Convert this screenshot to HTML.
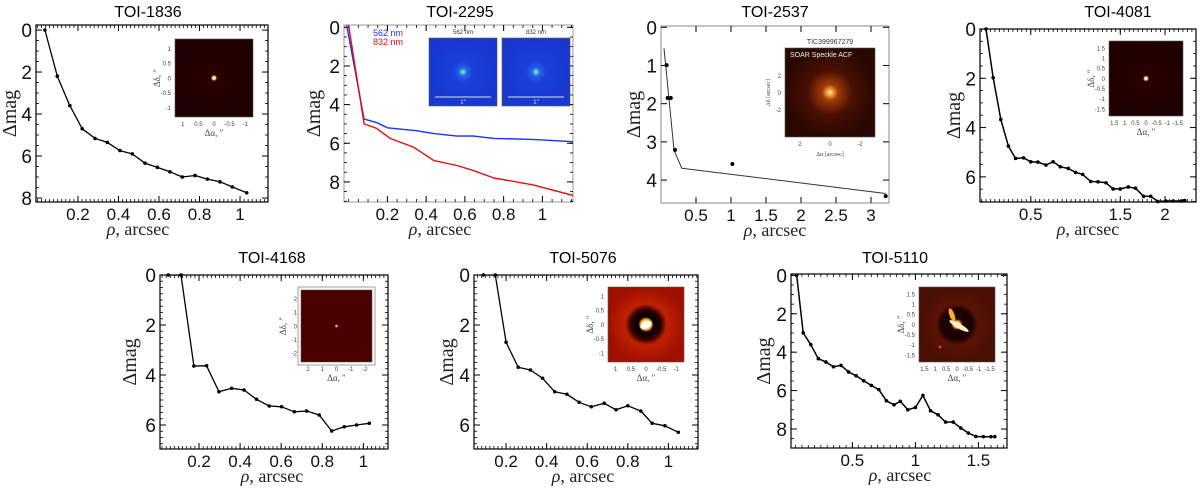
<!DOCTYPE html>
<html><head><meta charset="utf-8"><style>
html,body{margin:0;padding:0;background:#fff;}
svg{display:block;}
text{font-family:"Liberation Sans",sans-serif;}
.serif{font-family:"Liberation Serif",serif;}
</style></head><body>
<svg id="fig" width="1200" height="491" viewBox="0 0 1200 491" xmlns="http://www.w3.org/2000/svg">
<defs>
<radialGradient id="gDark" cx="50%" cy="50%" r="50%"><stop offset="0" stop-color="#fff"/><stop offset="0.03" stop-color="#fff"/><stop offset="0.05" stop-color="#ff9a20"/><stop offset="0.08" stop-color="#2a0000"/><stop offset="1" stop-color="#1e0000"/></radialGradient>
<radialGradient id="gBrown" cx="50%" cy="50%" r="50%"><stop offset="0" stop-color="#fff"/><stop offset="0.05" stop-color="#ffb040"/><stop offset="0.18" stop-color="#a03a08"/><stop offset="0.5" stop-color="#4a1002"/><stop offset="1" stop-color="#2a0802"/></radialGradient>
<radialGradient id="gMaroon" cx="50%" cy="50%" r="50%"><stop offset="0" stop-color="#ffff80"/><stop offset="0.03" stop-color="#ff8000"/><stop offset="0.05" stop-color="#4a0000"/><stop offset="1" stop-color="#4a0000"/></radialGradient>
<radialGradient id="gRed" cx="50%" cy="50%" r="50%"><stop offset="0" stop-color="#fff"/><stop offset="0.1" stop-color="#ffe0a0"/><stop offset="0.15" stop-color="#ff9000"/><stop offset="0.2" stop-color="#000"/><stop offset="0.4" stop-color="#300000"/><stop offset="0.55" stop-color="#c02000"/><stop offset="1" stop-color="#a01000"/></radialGradient>
<radialGradient id="gBrown2" cx="50%" cy="50%" r="50%"><stop offset="0" stop-color="#fff"/><stop offset="0.08" stop-color="#ffc060"/><stop offset="0.15" stop-color="#200000"/><stop offset="0.4" stop-color="#1a0000"/><stop offset="0.55" stop-color="#5a1205"/><stop offset="1" stop-color="#4a1005"/></radialGradient>
<radialGradient id="gBlue" cx="50%" cy="50%" r="50%"><stop offset="0" stop-color="#ffe000"/><stop offset="0.04" stop-color="#40e0c0"/><stop offset="0.12" stop-color="#2a60f0"/><stop offset="0.3" stop-color="#1a40d8"/><stop offset="1" stop-color="#1838d0"/></radialGradient>
</defs>
</svg>
<script>
// ---------- data ----------
const p1Rho=[0.037,0.098,0.16,0.221,0.284,0.345,0.407,0.468,0.531,0.592,0.654,0.715,0.778,0.839,0.901,0.962,1.033];
const p1Dmag=[0,2.2,3.6,4.7,5.16,5.35,5.74,5.9,6.34,6.54,6.75,7.0,6.93,7.1,7.23,7.47,7.75];
const p2BlueRho=[-0.01,0.08,0.145,0.2,0.35,0.44,0.56,0.64,0.75,0.95,1.158];
const p2BlueDmag=[-0.1,4.75,4.93,5.2,5.35,5.5,5.63,5.62,5.75,5.8,5.92];
const p2RedRho=[0.0,0.08,0.145,0.214,0.334,0.44,0.56,0.64,0.75,0.95,1.158];
const p2RedDmag=[-0.1,5.0,5.23,5.75,6.2,6.9,7.15,7.4,7.8,8.15,8.7];
const p3LineRho=[0.043,0.186,0.295,3.21];
const p3LineDmag=[0.55,3.21,3.69,4.35];
const p3PtRho=[0.08,0.095,0.14,0.2,1.02,3.21];
const p3PtDmag=[0.99,1.85,1.85,3.21,3.58,4.42];
const p4Rho=[0,0.08,0.165,0.25,0.33,0.42,0.50,0.58,0.67,0.75,0.83,0.92,1.0,1.08,1.17,1.25,1.34,1.42,1.50,1.59,1.67,1.76,1.84,1.92,2.01,2.09,2.18,2.22];
const p4Dmag=[0,1.98,3.67,4.75,5.25,5.23,5.39,5.4,5.52,5.39,5.59,5.66,5.82,5.9,6.19,6.2,6.24,6.49,6.49,6.41,6.46,6.79,6.79,7.0,6.98,6.98,6.98,6.96];
const p5Rho=[0.05,0.112,0.175,0.237,0.297,0.359,0.419,0.48,0.542,0.602,0.664,0.724,0.785,0.846,0.907,0.967,1.029];
const p5Dmag=[0,0,3.64,3.63,4.67,4.53,4.6,4.97,5.24,5.27,5.47,5.44,5.6,6.24,6.07,6.0,5.93];
const p6Rho=[0.088,0.147,0.2,0.26,0.32,0.38,0.44,0.5,0.56,0.62,0.684,0.742,0.80,0.864,0.92,0.983,1.049];
const p6Dmag=[0,0,2.69,3.69,3.8,4.13,4.67,4.77,5.09,5.27,5.13,5.39,5.23,5.44,5.93,6.03,6.29];
const p7Rho=[0.058,0.11,0.17,0.23,0.29,0.35,0.41,0.47,0.53,0.59,0.65,0.71,0.77,0.83,0.88,0.94,1.00,1.06,1.12,1.18,1.24,1.30,1.36,1.42,1.48,1.54,1.60,1.63];
const p7Dmag=[0,3.0,3.61,4.34,4.51,4.76,4.69,5.03,5.23,5.49,5.73,5.95,6.53,6.74,6.56,7.0,6.88,6.25,7.05,7.26,7.64,7.64,7.95,8.21,8.39,8.4,8.4,8.4];
const p1XTicks=[0.2,0.4,0.6,0.8,1], p1YTicks=[0,2,4,6,8];
const p2XTicks=[0.2,0.4,0.6,0.8,1], p2YTicks=[0,2,4,6,8];
const p3XTicks=[0.5,1,1.5,2,2.5,3], p3YTicks=[0,1,2,3,4];
const p4XTicks=[0.5,1.5,2], p4YTicks=[0,2,4,6];
const p5XTicks=[0.2,0.4,0.6,0.8,1], p5YTicks=[0,2,4,6];
const p6XTicks=[0.2,0.4,0.6,0.8,1], p6YTicks=[0,2,4,6];
const p7XTicks=[0.5,1,1.5], p7YTicks=[0,2,4,6,8];

const NS='http://www.w3.org/2000/svg';
const svg=document.getElementById('fig');
function mk(tag,attrs,parent){const e=document.createElementNS(NS,tag);for(const k in attrs)e.setAttribute(k,attrs[k]);(parent||svg).appendChild(e);return e;}
function fmt(v){return String(v);}

function panel(cfg){
  const g=mk('g',{});
  
  
  const {l,r,t,b}=cfg.box;
  const sx=v=>l+(v-cfg.xd[0])/(cfg.xd[1]-cfg.xd[0])*(r-l);
  const sy=v=>t+(v-cfg.yd[0])/(cfg.yd[1]-cfg.yd[0])*(b-t);
  cfg.sx=sx;cfg.sy=sy;cfg.g=g;
  const title=mk('text',{x:cfg.titleX,y:cfg.titleY,'text-anchor':'middle','font-size':16,fill:'#000'},g);
  title.textContent=cfg.title;
  
  
  const frame=mk('rect',{x:l,y:t,width:r-l,height:b-t,fill:'none',stroke:cfg.frameColor||'#000','stroke-width':cfg.frameW||1.2},g);
  
  
  if(cfg.minorX){
    for(let v=Math.ceil(cfg.xd[0]/cfg.minorX)*cfg.minorX; v<=cfg.xd[1]; v+=cfg.minorX){
      const x=sx(v);
      mk('line',{x1:x,x2:x,y1:t,y2:t+3,stroke:'#000','stroke-width':0.8},g);
      mk('line',{x1:x,x2:x,y1:b,y2:b-3,stroke:'#000','stroke-width':0.8},g);
    }
  }
  if(cfg.minorY){
    for(let v=Math.ceil(cfg.yd[0]/cfg.minorY)*cfg.minorY; v<=cfg.yd[1]; v+=cfg.minorY){
      const y=sy(v);
      mk('line',{x1:l,x2:l+3,y1:y,y2:y,stroke:'#000','stroke-width':0.8},g);
      mk('line',{x1:r,x2:r-3,y1:y,y2:y,stroke:'#000','stroke-width':0.8},g);
    }
  }
  cfg.xTicks.forEach(v=>{
    const x=sx(v);
    mk('line',{x1:x,x2:x,y1:b,y2:b-6,stroke:'#000','stroke-width':1},g);
    mk('line',{x1:x,x2:x,y1:t,y2:t+6,stroke:'#000','stroke-width':1},g);
    const tx=mk('text',{x:x,y:b+18,'text-anchor':'middle','font-size':17,fill:'#111'},g);
    tx.textContent=fmt(v);
    
    
  });
  cfg.yTicks.forEach(v=>{
    const y=sy(v);
    mk('line',{x1:l,x2:l+6,y1:y,y2:y,stroke:'#000','stroke-width':1},g);
    mk('line',{x1:r,x2:r-6,y1:y,y2:y,stroke:'#000','stroke-width':1},g);
    const ty=mk('text',{x:l-4,y:y+7,'text-anchor':'end','font-size':19,fill:'#111'},g);
    ty.textContent=fmt(v);
    
    
  });
  const yl=mk('text',{x:0,y:0,'text-anchor':'middle','font-size':20,'class':'serif',fill:'#222',transform:`translate(${cfg.ylX},${(t+b)/2}) rotate(-90)`},g);
  yl.textContent='Δmag';
  
  
  const xl=mk('text',{x:cfg.xlX,y:b+33,'text-anchor':'middle','font-size':18,'class':'serif',fill:'#222'},g);
  xl.innerHTML='<tspan font-style="italic">ρ</tspan>, arcsec';
  
  
  const cp=mk('clipPath',{id:'clip-'+cfg.name},g);
  mk('rect',{x:l,y:t,width:r-l,height:b-t},cp);
  return cfg;
}
function series(cfg,xs,ys,color,name,dots,w){
  const pts=xs.map((v,i)=>cfg.sx(v).toFixed(1)+','+cfg.sy(ys[i]).toFixed(1)).join(' ');
  const pl=mk('polyline',{points:pts,fill:'none',stroke:color,'stroke-width':w||1.3,'stroke-linejoin':'round','clip-path':`url(#clip-${cfg.name})`},cfg.g);
  
  
  if(dots) xs.forEach((v,i)=>{
    const c=mk('circle',{cx:cfg.sx(v),cy:cfg.sy(ys[i]),r:1.8,fill:color},cfg.g);
    
    
  });
}
function points(cfg,xs,ys,name){
  xs.forEach((v,i)=>{
    const c=mk('circle',{cx:cfg.sx(v),cy:cfg.sy(ys[i]),r:2,fill:'#000'},cfg.g);
    
    
  });
}
function inset(o){
  const g=mk('g',{});
  
  
  if(o.border) mk('rect',{x:o.x-3,y:o.y-3,width:o.w+6,height:o.h+6,fill:'#fff',stroke:'#888','stroke-width':0.8},g);
  const im=mk('rect',{x:o.x,y:o.y,width:o.w,height:o.h,fill:o.fill,stroke:'#555','stroke-width':0.6},g);
  
  
  if(o.extra) o.extra(g);
  if(o.yt) o.yt.forEach((s,i)=>{const tt=mk('text',{x:o.x-4,y:o.y+o.h*(i+0.5)/o.yt.length*0.95+o.h*0.03+2,'text-anchor':'end','font-size':6,fill:'#444'},g);tt.textContent=s;});
  if(o.xt) o.xt.forEach((s,i)=>{const tt=mk('text',{x:o.x+o.w*(i+0.5)/o.xt.length,y:o.y+o.h+9,'text-anchor':'middle','font-size':6,fill:'#444'},g);tt.textContent=s;});
  if(o.xlab){const tt=mk('text',{x:o.x+o.w/2,y:o.y+o.h+19,'text-anchor':'middle','font-size':o.lfs||9,'class':'serif',fill:'#444'},g);tt.textContent=o.xlab;}
  if(o.ylab){const tt=mk('text',{x:0,y:0,'text-anchor':'middle','font-size':o.lfs||9,'class':'serif',fill:'#444',transform:`translate(${o.x-15},${o.y+o.h/2}) rotate(-90)`},g);tt.textContent=o.ylab;}
}

// ---------- panels ----------
const P1=panel({name:'toi-1836',title:'TOI-1836',box:{l:36,r:268,t:25,b:202},xd:[-0.007,1.138],yd:[-0.24,8.19],xTicks:p1XTicks,yTicks:p1YTicks,minorX:0.02,minorY:0.5,titleX:148,titleY:17,ylX:16,xlX:138});
series(P1,p1Rho,p1Dmag,'#000','contrast-curve',true);
inset({name:'toi-1836-inset',x:175,y:39,w:78,h:78,fill:'url(#gDark)',yt:['1','0.5','0','-0.5','-1'],xt:['1','0.5','0','-0.5','-1'],xlab:'Δα, ″',ylab:'Δδ, ″'});

const P2=panel({name:'toi-2295',title:'TOI-2295',box:{l:344,r:573,t:25,b:202},xd:[-0.024,1.158],yd:[-0.12,9.04],xTicks:p2XTicks,yTicks:p2YTicks,minorX:0.05,minorY:0.5,frameColor:'#999',frameW:1,titleX:460,titleY:17,ylX:320,xlX:440});
series(P2,p2BlueRho,p2BlueDmag,'#2030ff','blue-562nm-curve',false,1.4);
series(P2,p2RedRho,p2RedDmag,'#e01010','red-832nm-curve',false,1.4);
(function(){const t1=mk('text',{x:373,y:36,'font-size':9,fill:'#2030ff'});t1.textContent='562 nm';
const t2=mk('text',{x:373,y:45,'font-size':9,fill:'#e01010'});t2.textContent='832 nm';})();
[[429,'562 nm'],[502,'832 nm']].forEach(([x,lab])=>{
  inset({name:'toi-2295-inset-'+lab.replace(' ',''),x:x,y:38,w:68,h:68,fill:'url(#gBlue)',extra:g=>{
    mk('line',{x1:x+6,x2:x+62,y1:97,y2:97,stroke:'#ddd','stroke-width':1},g);
    const s=mk('text',{x:x+34,y:104,'text-anchor':'middle','font-size':6,fill:'#ddd'},g);s.textContent='1″';
    const tt=mk('text',{x:x+34,y:34,'text-anchor':'middle','font-size':6,fill:'#333'},g);tt.textContent=lab;}});
});

const P3=panel({name:'toi-2537',title:'TOI-2537',box:{l:661,r:889,t:26,b:203},xd:[0,3.257],yd:[-0.034,4.6],xTicks:p3XTicks,yTicks:p3YTicks,frameColor:'#888',frameW:1,titleX:775,titleY:17,ylX:640,xlX:775});
series(P3,p3LineRho,p3LineDmag,'#333','sensitivity-curve',false,1);
points(P3,p3PtRho,p3PtDmag,'detection-limit-point');
inset({name:'toi-2537-inset',x:785,y:48,w:90,h:89,fill:'url(#gBrown)',yt:['','2','0','-2',''],xt:['2','0','-2'],xlab:'Δα [arcsec]',ylab:'Δδ [arcsec]',lfs:6,extra:g=>{
  const a=mk('text',{x:830,y:44,'text-anchor':'middle','font-size':7,fill:'#333'},g);a.textContent='TIC399967279';
  const b=mk('text',{x:790,y:57,'font-size':7,fill:'#eee'},g);b.textContent='SOAR Speckle ACF';}});

const P4=panel({name:'toi-4081',title:'TOI-4081',box:{l:980,r:1196,t:29,b:202},xd:[-0.067,2.346],yd:[0,7.02],xTicks:p4XTicks,yTicks:p4YTicks,minorX:0.05,minorY:0.5,titleX:1118,titleY:17,ylX:960,xlX:1088});
series(P4,p4Rho,p4Dmag,'#000','contrast-curve',true,1.5);
inset({name:'toi-4081-inset',x:1109,y:41,w:74,h:75,fill:'url(#gDark)',yt:['1.5','1','0.5','0','-0.5','-1','-1.5'],xt:['1.5','1','0.5','0','-0.5','-1','-1.5'],xlab:'Δα, ″',ylab:'Δδ, ″'});

const P5=panel({name:'toi-4168',title:'TOI-4168',box:{l:160,r:388,t:275,b:449},xd:[0.01,1.12],yd:[0,6.96],xTicks:p5XTicks,yTicks:p5YTicks,minorX:0.02,minorY:0.25,titleX:272,titleY:263,ylX:136,xlX:272});
series(P5,p5Rho,p5Dmag,'#000','contrast-curve',true);
inset({name:'toi-4168-inset',x:301,y:290,w:71,h:72,fill:'url(#gMaroon)',border:true,yt:['2','1','0','-1','-2'],xt:['2','1','0','-1','-2'],xlab:'Δα, ″',ylab:'Δδ, ″'});

const P6=panel({name:'toi-5076',title:'TOI-5076',box:{l:474,r:698,t:275,b:449},xd:[0.042,1.146],yd:[0,6.96],xTicks:p6XTicks,yTicks:p6YTicks,minorX:0.02,minorY:0.25,titleX:583,titleY:263,ylX:453,xlX:583});
series(P6,p6Rho,p6Dmag,'#000','contrast-curve',true);
inset({name:'toi-5076-inset',x:608,y:287,w:76,h:75,fill:'url(#gRed)',yt:['1','0.5','0','-0.5','-1'],xt:['1','0.5','0','-0.5','-1'],xlab:'Δα, ″',ylab:'Δδ, ″',extra:g=>{
  mk('ellipse',{cx:646,cy:325,rx:6,ry:3.5,fill:'#fff',transform:'rotate(-25 646 325)'},g);}});

const P7=panel({name:'toi-5110',title:'TOI-5110',box:{l:791,r:1007,t:274,b:448},xd:[0.013,1.727],yd:[-0.07,8.99],xTicks:p7XTicks,yTicks:p7YTicks,minorX:0.05,minorY:0.5,titleX:895,titleY:263,ylX:770,xlX:900});
series(P7,p7Rho,p7Dmag,'#000','contrast-curve',true,1.5);
inset({name:'toi-5110-inset',x:919,y:287,w:76,h:75,fill:'url(#gBrown2)',yt:['1.5','1','0.5','0','-0.5','-1','-1.5'],xt:['1.5','1','0.5','0','-0.5','-1','-1.5'],xlab:'Δα, ″',ylab:'Δδ, ″',extra:g=>{
  mk('ellipse',{cx:959,cy:326,rx:11,ry:2.5,fill:'#fff2c0',transform:'rotate(30 959 326)'},g);
  mk('ellipse',{cx:952,cy:315,rx:2.5,ry:7,fill:'#ffb020',transform:'rotate(-20 952 315)'},g);
  mk('circle',{cx:940,cy:347,r:1.5,fill:'#d04010'},g);}});
</script>
</body></html>
